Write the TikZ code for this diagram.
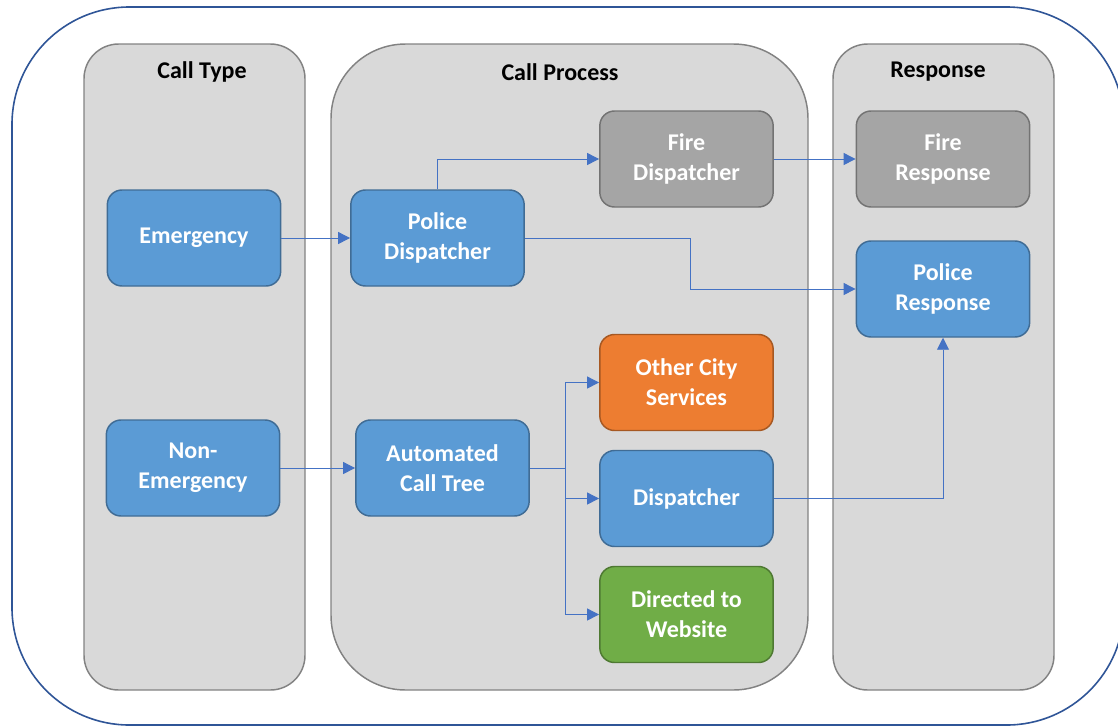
\documentclass[tikz,border=0pt]{standalone}
\usepackage{fontspec}
\setmainfont{Carlito}
\usetikzlibrary{arrows.meta,positioning}

\begin{document}
\begin{tikzpicture}[%
        % one unit is one pixel of the sketch
        x=0.75pt,y=-0.75pt,
        every node/.style={font=\fontsize{18}{22.5}\selectfont\bfseries},
        % boxes
        box/.style={rounded corners=11pt, draw=#1!70!black, fill=#1, line width=1.1pt,
            text=white, align=center, minimum width=130pt, minimum height=72pt, inner sep=2pt},
        lane/.style={draw=lanedraw, fill=lanefill, line width=1.1pt},
        link/.style={draw=linkcolor, line width=0.7pt, -{Triangle[length=9pt,width=9pt,fill=linkcolor]}},
        ]

        \definecolor{outercolor}{RGB}{47, 85, 151}
        \definecolor{lanefill}{RGB}{217, 217, 217}
        \definecolor{lanedraw}{RGB}{130, 130, 130}
        \definecolor{linkcolor}{RGB}{68, 114, 196}
        \definecolor{boxblue}{RGB}{91, 155, 213}
        \definecolor{boxgray}{RGB}{165, 165, 165}
        \definecolor{boxorange}{RGB}{237, 125, 49}
        \definecolor{boxgreen}{RGB}{112, 173, 71}

        \useasboundingbox (0,0) rectangle (1118,726);
        \clip (0,0) rectangle (1118,726);

        % outer frame
        \draw[outercolor, line width=1.2pt, rounded corners=88pt] (12,7) rectangle (1124,725);

        % lanes
        \draw[lane, rounded corners=26pt] (84,44) rectangle (305,690);
        \draw[lane, rounded corners=56pt] (331,44) rectangle (808,690);
        \draw[lane, rounded corners=26pt] (833,44) rectangle (1054,690);
        \node (typetitle) at (202,72) {Call Type};
        \node (proctitle) at (560,72) {Call Process};
        \node (resptitle) at (938,72) {Response};

        % call type
        \node[box=boxblue] (emerg) at (194,238) {Emergency};
        \node[box=boxblue] (nonemerg) at (193,468) {Non-\\Emergency};

        % call process
        \node[box=boxblue] (policedisp) at (437.5,238) {Police\\Dispatcher};
        \node[box=boxblue] (calltree) at (442.5,468) {Automated\\Call Tree};
        \node[box=boxgray] (firedisp) at (686.5,159) {Fire\\Dispatcher};
        \node[box=boxorange] (otherserv) at (686.5,382.5) {Other City\\Services};
        \node[box=boxblue] (disp) at (686.5,498.5) {Dispatcher};
        \node[box=boxgreen] (website) at (686.5,614.5) {Directed to\\Website};

        % response
        \node[box=boxgray] (fireresp) at (943,159) {Fire\\Response};
        \node[box=boxblue] (policeresp) at (943,289) {Police\\Response};

        % connectors
        \coordinate (pdjog) at (690,0);
        \coordinate (treejog) at (565,0);
        \draw[link] (emerg) -- (policedisp);
        \draw[link] (policedisp.north) |- (firedisp);
        \draw[link] (firedisp) -- (fireresp);
        \draw[link] (policedisp.east) -| (pdjog |- policeresp.west) -- (policeresp);
        \draw[link] (nonemerg) -- (calltree);
        \draw[link] (calltree.east) -| (treejog |- otherserv) -- (otherserv);
        \draw[link] (calltree.east) -| (treejog |- disp) -- (disp);
        \draw[link] (calltree.east) -| (treejog |- website) -- (website);
        \draw[link] (disp) -| (policeresp);

    \end{tikzpicture}
\end{document}
